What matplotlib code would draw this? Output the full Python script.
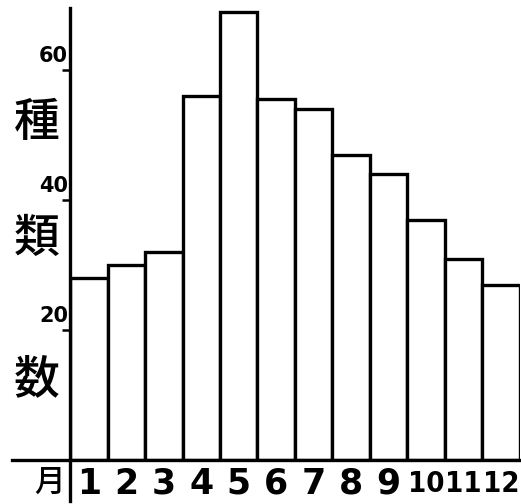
import matplotlib.pyplot as plt

# monthly counts
months = ['1', '2', '3', '4', '5', '6', '7', '8', '9', '10', '11', '12']
counts = [28, 30, 32, 56, 69, 55.5, 54, 47, 44, 37, 31, 27]
ytick_vals = [20, 40, 60]
ylabel_chars = ['種', '類', '数']

plt.rcParams['font.family'] = ['Noto Sans CJK JP', 'DejaVu Sans']

fig = plt.figure(figsize=(5.21, 5.04), dpi=100)
ax = fig.add_axes([0.1344, 0.0873, 0.8636, 0.897])

x = list(range(len(months)))
ax.bar(x, counts, width=1.0, color='white', edgecolor='black', linewidth=2.4)

ax.set_xlim(-0.5, len(months) - 0.5)
ax.set_ylim(0, 69.6)

for s in ['top', 'right', 'bottom', 'left']:
    ax.spines[s].set_visible(False)

# hand-drawn style axes: y axis runs below baseline, x axis runs left
ax.plot([0, 0], [-0.09, 1.0], transform=ax.transAxes, color='black', lw=2.4, clip_on=False)
ax.plot([-0.13, 1.0], [0, 0], transform=ax.transAxes, color='black', lw=2.4, clip_on=False)

ax.set_xticks([])
ax.set_yticks(ytick_vals)
ax.set_yticklabels([])
ax.tick_params(axis='y', direction='out', length=6, width=1.8)

for v in ytick_vals:
    ax.text(-0.004, v + 0.6, str(v), transform=ax.get_yaxis_transform(),
            ha='right', va='bottom', fontsize=15, family='DejaVu Sans', weight='bold')

for i, m in enumerate(months):
    if len(m) > 1:
        ax.text(i, -0.052, m, transform=ax.get_xaxis_transform(), ha='center', va='center',
                fontsize=21, family='DejaVu Sans', fontstretch='condensed', weight='bold')
    else:
        ax.text(i, -0.052, m, transform=ax.get_xaxis_transform(), ha='center', va='center',
                fontsize=25, family='DejaVu Sans', weight='bold')

fig.text(49 / 521, 1 - 482 / 504, '月', ha='center', va='center', fontsize=22, weight='medium')

for ch, yc in zip(ylabel_chars, [123, 238, 380]):
    fig.text(37 / 521, 1 - yc / 504, ch, ha='center', va='center', fontsize=33, weight='medium')

fig.savefig('out.png', dpi=100, facecolor='white')
